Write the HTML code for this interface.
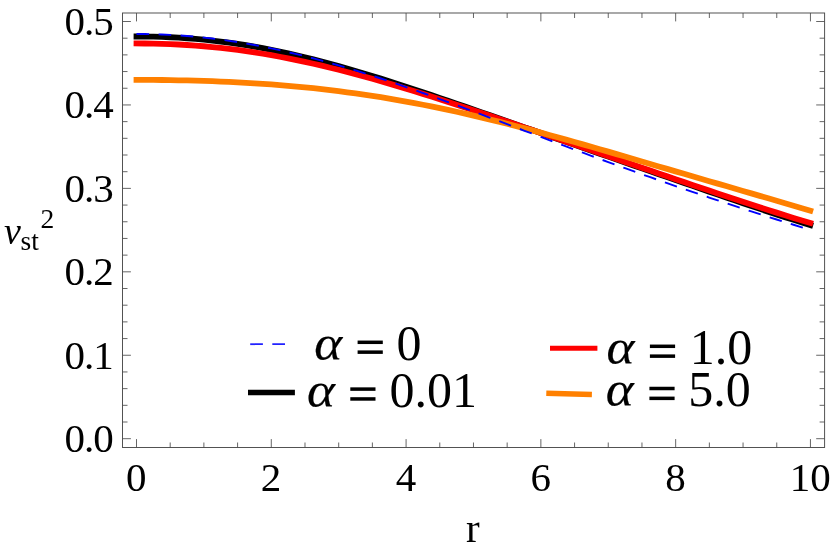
<!DOCTYPE html>
<html><head><meta charset="utf-8"><title>plot</title>
<style>
html,body{margin:0;padding:0;background:#fff;}
svg{display:block;will-change:transform;font-family:"Liberation Serif",serif;}
.i{font-style:italic;}
</style></head><body>
<svg width="830" height="551" viewBox="0 0 830 551">
<rect width="830" height="551" fill="#fff"/>
<g fill="none" stroke-linecap="square" stroke-linejoin="round">
<path d="M136.5,36.50 L144.9,36.55 L153.3,36.68 L161.8,36.92 L170.2,37.25 L178.6,37.69 L187.0,38.25 L195.5,38.91 L203.9,39.68 L212.3,40.56 L220.7,41.56 L229.1,42.67 L237.6,43.88 L246.0,45.21 L254.4,46.64 L262.8,48.18 L271.3,49.82 L279.7,51.55 L288.1,53.38 L296.5,55.30 L304.9,57.31 L313.4,59.40 L321.8,61.57 L330.2,63.82 L338.6,66.13 L347.1,68.52 L355.5,70.96 L363.9,73.47 L372.3,76.02 L380.8,78.63 L389.2,81.28 L397.6,83.97 L406.0,86.71 L414.4,89.47 L422.9,92.27 L431.3,95.09 L439.7,97.94 L448.1,100.80 L456.6,103.69 L465.0,106.59 L473.4,109.50 L481.8,112.43 L490.2,115.36 L498.7,118.30 L507.1,121.24 L515.5,124.19 L523.9,127.14 L532.4,130.09 L540.8,133.04 L549.2,135.99 L557.6,138.93 L566.0,141.88 L574.5,144.83 L582.9,147.77 L591.3,150.71 L599.7,153.65 L608.2,156.59 L616.6,159.52 L625.0,162.45 L633.4,165.39 L641.8,168.32 L650.3,171.24 L658.7,174.17 L667.1,177.10 L675.5,180.02 L684.0,182.94 L692.4,185.86 L700.8,188.77 L709.2,191.67 L717.7,194.57 L726.1,197.46 L734.5,200.34 L742.9,203.20 L751.3,206.05 L759.8,208.87 L768.2,211.66 L776.6,214.43 L785.0,217.15 L793.5,219.83 L801.9,222.45 L810.3,225.02" stroke="#000" stroke-width="5.8"/>
<path d="M136.5,43.44 L144.9,43.48 L153.3,43.60 L161.8,43.81 L170.2,44.11 L178.6,44.50 L187.0,44.99 L195.5,45.57 L203.9,46.25 L212.3,47.03 L220.7,47.90 L229.1,48.88 L237.6,49.95 L246.0,51.12 L254.4,52.38 L262.8,53.74 L271.3,55.19 L279.7,56.73 L288.1,58.36 L296.5,60.07 L304.9,61.86 L313.4,63.73 L321.8,65.68 L330.2,67.70 L338.6,69.80 L347.1,71.96 L355.5,74.18 L363.9,76.46 L372.3,78.80 L380.8,81.19 L389.2,83.64 L397.6,86.13 L406.0,88.67 L414.4,91.24 L422.9,93.86 L431.3,96.51 L439.7,99.19 L448.1,101.90 L456.6,104.64 L465.0,107.40 L473.4,110.19 L481.8,112.99 L490.2,115.82 L498.7,118.65 L507.1,121.50 L515.5,124.36 L523.9,127.23 L532.4,130.11 L540.8,133.00 L549.2,135.89 L557.6,138.78 L566.0,141.68 L574.5,144.58 L582.9,147.48 L591.3,150.38 L599.7,153.28 L608.2,156.18 L616.6,159.07 L625.0,161.96 L633.4,164.85 L641.8,167.74 L650.3,170.62 L658.7,173.49 L667.1,176.36 L675.5,179.23 L684.0,182.08 L692.4,184.93 L700.8,187.76 L709.2,190.59 L717.7,193.41 L726.1,196.21 L734.5,199.00 L742.9,201.77 L751.3,204.52 L759.8,207.25 L768.2,209.95 L776.6,212.63 L785.0,215.28 L793.5,217.90 L801.9,220.47 L810.3,223.00" stroke="#ff0000" stroke-width="5.8"/>
<path d="M136.5,79.88 L144.9,79.89 L153.3,79.94 L161.8,80.02 L170.2,80.13 L178.6,80.28 L187.0,80.46 L195.5,80.67 L203.9,80.93 L212.3,81.22 L220.7,81.55 L229.1,81.92 L237.6,82.34 L246.0,82.80 L254.4,83.30 L262.8,83.85 L271.3,84.45 L279.7,85.11 L288.1,85.81 L296.5,86.56 L304.9,87.37 L313.4,88.24 L321.8,89.16 L330.2,90.13 L338.6,91.17 L347.1,92.26 L355.5,93.41 L363.9,94.62 L372.3,95.88 L380.8,97.21 L389.2,98.60 L397.6,100.04 L406.0,101.55 L414.4,103.11 L422.9,104.73 L431.3,106.40 L439.7,108.13 L448.1,109.91 L456.6,111.75 L465.0,113.64 L473.4,115.58 L481.8,117.56 L490.2,119.60 L498.7,121.67 L507.1,123.79 L515.5,125.95 L523.9,128.15 L532.4,130.38 L540.8,132.64 L549.2,134.94 L557.6,137.26 L566.0,139.61 L574.5,141.98 L582.9,144.37 L591.3,146.79 L599.7,149.21 L608.2,151.65 L616.6,154.10 L625.0,156.56 L633.4,159.02 L641.8,161.49 L650.3,163.96 L658.7,166.43 L667.1,168.90 L675.5,171.37 L684.0,173.83 L692.4,176.29 L700.8,178.75 L709.2,181.20 L717.7,183.65 L726.1,186.09 L734.5,188.53 L742.9,190.96 L751.3,193.40 L759.8,195.84 L768.2,198.28 L776.6,200.74 L785.0,203.20 L793.5,205.68 L801.9,208.19 L810.3,210.73" stroke="#ff8000" stroke-width="5.8"/>
<path d="M136.5,34.00 L144.9,34.05 L153.3,34.22 L161.8,34.50 L170.2,34.89 L178.6,35.39 L187.0,36.01 L195.5,36.75 L203.9,37.59 L212.3,38.56 L220.7,39.63 L229.1,40.82 L237.6,42.12 L246.0,43.52 L254.4,45.04 L262.8,46.65 L271.3,48.37 L279.7,50.19 L288.1,52.10 L296.5,54.10 L304.9,56.20 L313.4,58.38 L321.8,60.64 L330.2,62.99 L338.6,65.41 L347.1,67.90 L355.5,70.46 L363.9,73.09 L372.3,75.77 L380.8,78.52 L389.2,81.32 L397.6,84.17 L406.0,87.06 L414.4,90.00 L422.9,92.98 L431.3,95.99 L439.7,99.04 L448.1,102.11 L456.6,105.21 L465.0,108.33 L473.4,111.47 L481.8,114.63 L490.2,117.79 L498.7,120.97 L507.1,124.15 L515.5,127.34 L523.9,130.53 L532.4,133.72 L540.8,136.91 L549.2,140.09 L557.6,143.26 L566.0,146.42 L574.5,149.57 L582.9,152.71 L591.3,155.84 L599.7,158.95 L608.2,162.04 L616.6,165.12 L625.0,168.17 L633.4,171.21 L641.8,174.22 L650.3,177.21 L658.7,180.19 L667.1,183.14 L675.5,186.06 L684.0,188.97 L692.4,191.85 L700.8,194.71 L709.2,197.55 L717.7,200.37 L726.1,203.16 L734.5,205.93 L742.9,208.68 L751.3,211.42 L759.8,214.13 L768.2,216.82 L776.6,219.49 L785.0,222.14 L793.5,224.78 L801.9,227.40 L810.3,230.00" stroke="#0000ff" stroke-width="1.9" stroke-dasharray="12.65 9.43" stroke-linecap="butt"/>
</g>
<rect x="122.5" y="13.0" width="702.1" height="434.5" fill="none" stroke="#4a4a4a" stroke-width="0.95"/>
<path d="M136.50,447.5v-8.4M136.50,13.0v8.4M170.20,447.5v-5.0M170.20,13.0v5.0M203.89,447.5v-5.0M203.89,13.0v5.0M237.59,447.5v-5.0M237.59,13.0v5.0M271.29,447.5v-8.4M271.29,13.0v8.4M304.99,447.5v-5.0M304.99,13.0v5.0M338.69,447.5v-5.0M338.69,13.0v5.0M372.38,447.5v-5.0M372.38,13.0v5.0M406.08,447.5v-8.4M406.08,13.0v8.4M439.78,447.5v-5.0M439.78,13.0v5.0M473.47,447.5v-5.0M473.47,13.0v5.0M507.17,447.5v-5.0M507.17,13.0v5.0M540.87,447.5v-8.4M540.87,13.0v8.4M574.57,447.5v-5.0M574.57,13.0v5.0M608.26,447.5v-5.0M608.26,13.0v5.0M641.96,447.5v-5.0M641.96,13.0v5.0M675.66,447.5v-8.4M675.66,13.0v8.4M709.36,447.5v-5.0M709.36,13.0v5.0M743.05,447.5v-5.0M743.05,13.0v5.0M776.75,447.5v-5.0M776.75,13.0v5.0M810.45,447.5v-8.4M810.45,13.0v8.4M122.5,438.70h8.4M824.6,438.70h-8.4M122.5,422.01h5.0M824.6,422.01h-5.0M122.5,405.32h5.0M824.6,405.32h-5.0M122.5,388.64h5.0M824.6,388.64h-5.0M122.5,371.95h5.0M824.6,371.95h-5.0M122.5,355.26h8.4M824.6,355.26h-8.4M122.5,338.57h5.0M824.6,338.57h-5.0M122.5,321.88h5.0M824.6,321.88h-5.0M122.5,305.20h5.0M824.6,305.20h-5.0M122.5,288.51h5.0M824.6,288.51h-5.0M122.5,271.82h8.4M824.6,271.82h-8.4M122.5,255.13h5.0M824.6,255.13h-5.0M122.5,238.44h5.0M824.6,238.44h-5.0M122.5,221.76h5.0M824.6,221.76h-5.0M122.5,205.07h5.0M824.6,205.07h-5.0M122.5,188.38h8.4M824.6,188.38h-8.4M122.5,171.69h5.0M824.6,171.69h-5.0M122.5,155.00h5.0M824.6,155.00h-5.0M122.5,138.32h5.0M824.6,138.32h-5.0M122.5,121.63h5.0M824.6,121.63h-5.0M122.5,104.94h8.4M824.6,104.94h-8.4M122.5,88.25h5.0M824.6,88.25h-5.0M122.5,71.56h5.0M824.6,71.56h-5.0M122.5,54.88h5.0M824.6,54.88h-5.0M122.5,38.19h5.0M824.6,38.19h-5.0M122.5,21.50h8.4M824.6,21.50h-8.4" fill="none" stroke="#4a4a4a" stroke-width="0.85"/>
<g font-size="41" fill="#000" letter-spacing="-1.0"><text x="112.8" y="452.0" text-anchor="end">0.0</text><text x="112.8" y="368.6" text-anchor="end">0.1</text><text x="112.8" y="285.1" text-anchor="end">0.2</text><text x="112.8" y="201.7" text-anchor="end">0.3</text><text x="112.8" y="118.2" text-anchor="end">0.4</text><text x="112.8" y="34.8" text-anchor="end">0.5</text></g>
<g font-size="41" fill="#000"><text x="136.3" y="490.5" text-anchor="middle">0</text><text x="271.1" y="490.5" text-anchor="middle">2</text><text x="405.9" y="490.5" text-anchor="middle">4</text><text x="540.7" y="490.5" text-anchor="middle">6</text><text x="675.5" y="490.5" text-anchor="middle">8</text><text x="810.2" y="490.5" text-anchor="middle">10</text>
<text x="466" y="541.5">r</text>
</g>
<g fill="#000">
<text x="3.9" y="244.3" font-size="38" class="i">v</text>
<text x="20.6" y="249.7" font-size="27.5">st</text>
<text x="40.4" y="227.8" font-size="27.5">2</text>
</g>
<g fill="none">
<path d="M250.2,344.2H285" stroke="#2222ff" stroke-width="1.8" stroke-dasharray="12.7 9.4"/>
<path d="M248,392.6H294.9" stroke="#000" stroke-width="5.5"/>
<path d="M550,348.3H597.4" stroke="#ff0000" stroke-width="5"/>
<path d="M546.3,393.2L591.9,394.4" stroke="#ff8000" stroke-width="5.5"/>
</g>
<g font-size="50" fill="#000"><text transform="translate(314.2,360.0) scale(1.065,1)" class="i" stroke="#000" stroke-width="0.2">α</text><rect x="357.6" y="340.55" width="25.2" height="3.5"/><rect x="357.6" y="350.40" width="25.2" height="3.5"/><text x="396.4" y="360.0">0</text><text transform="translate(307.1,406.8) scale(1.065,1)" class="i" stroke="#000" stroke-width="0.2">α</text><rect x="350.3" y="387.35" width="25.2" height="3.5"/><rect x="350.3" y="397.20" width="25.2" height="3.5"/><text x="389.6" y="406.8">0.01</text><text transform="translate(606.5,364.0) scale(1.065,1)" class="i" stroke="#000" stroke-width="0.2">α</text><rect x="649.9" y="344.55" width="25.2" height="3.5"/><rect x="649.9" y="354.40" width="25.2" height="3.5"/><text x="689.8" y="364.0">1.0</text><text transform="translate(605.8,406.2) scale(1.065,1)" class="i" stroke="#000" stroke-width="0.2">α</text><rect x="649.4" y="386.75" width="25.2" height="3.5"/><rect x="649.4" y="396.60" width="25.2" height="3.5"/><text x="688.2" y="406.2">5.0</text></g>
</svg>
</body></html>
